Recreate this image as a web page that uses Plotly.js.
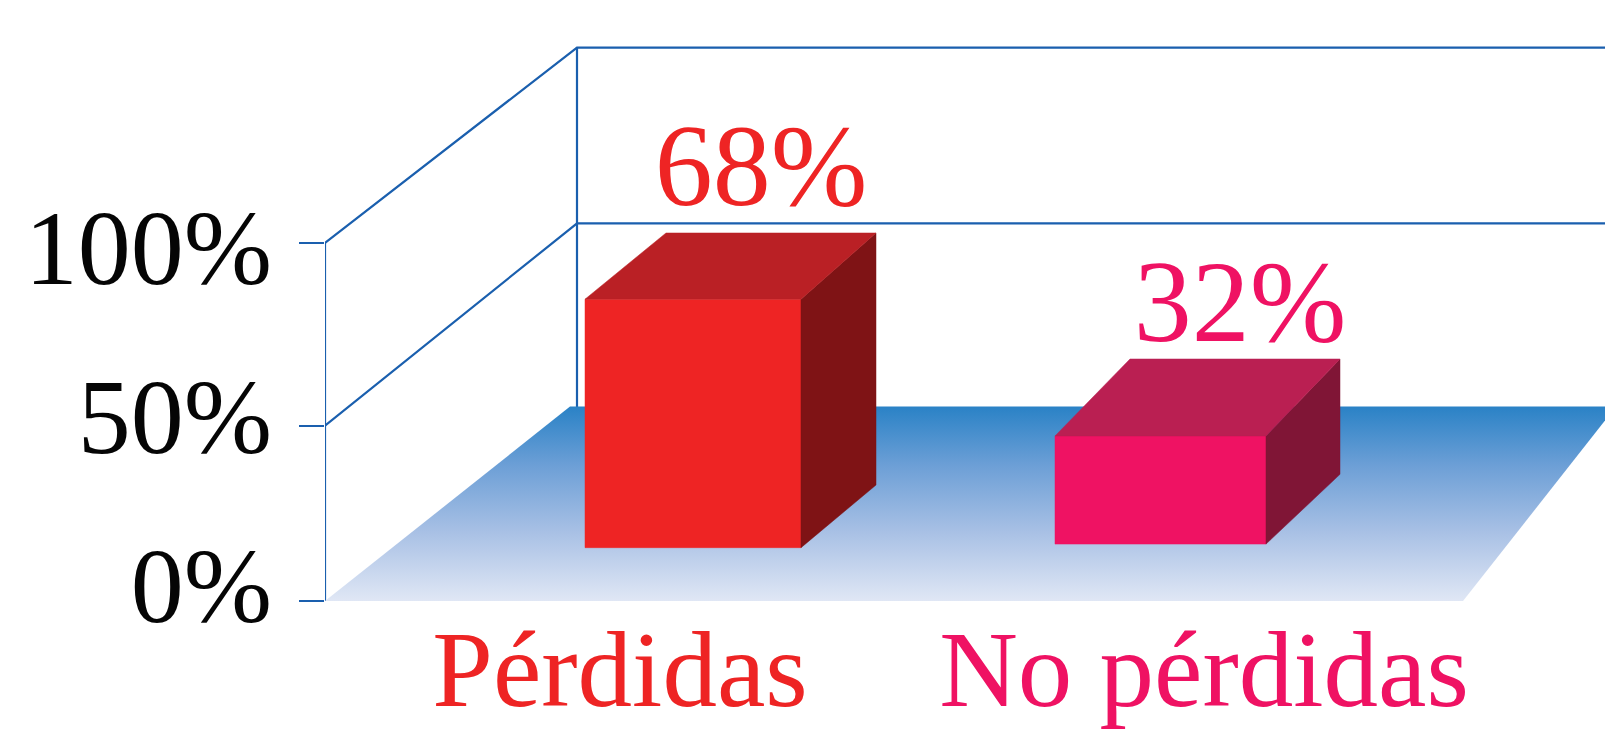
<!DOCTYPE html>
<html><head><meta charset="utf-8">
<script src="https://cdn.plot.ly/plotly-3.0.1.min.js"></script>
<style>html,body{margin:0;padding:0;background:#fff;overflow:hidden}</style>
</head><body><div id="chart" style="width:1605px;height:731px"></div>
<script>
// Data
const categories = ['Pérdidas', 'No pérdidas'];
const percentages = [68, 32];
const seriesColors = ['#EE2424', '#EF1263'];
const sideColors = ['#7F1315', '#801536'];
const topColors = ['#BA2025', '#BA1F52'];
const categoryCentres = [620, 1204];
const barLeft = [585, 1055];
const barRight = [801, 1266];
const barBase = [14.9, 15.9];
const barHeight = [69.4, 30.2];
const labelX = [761, 1240];
const labelY = [118.6, 80.6];
const tickValues = [0, 48.9, 100];
const tickLabelValues = [0, 50, 100];
const tickLabels = ['0%', '50%', '100%'];
const wallValues = [49, 100];
const depthTopLeftX = [81, 75];
const depthTopRightX = [75, 74];
const depthTopY = [18.5, 21.5];
const depthBottomY = [17.5, 19.5];

const UNIT = 3.58, AX = 325, W = 1605;
const lineBlue = '#1A5FAE';
const poly = (xs, ys, color) => ({x: xs, y: ys, mode: 'lines', fill: 'toself', fillcolor: color,
  line: {color: color, width: 0.5}, hoverinfo: 'skip', showlegend: false, cliponaxis: false});
const wallDX = 252, wallDY = [56.5, 54.6], backX = AX + wallDX;
const traces = [];
// wall lines
wallValues.forEach((v, i) => traces.push({x: [AX, backX, W], y: [v, v + wallDY[i], v + wallDY[i]], mode: 'lines',
  line: {color: lineBlue, width: 2.2}, hoverinfo: 'skip', showlegend: false, cliponaxis: false}));
traces.push({x: [backX, backX], y: [54, 154.6], mode: 'lines', line: {color: lineBlue, width: 2.2}, hoverinfo: 'skip', showlegend: false, cliponaxis: false});
traces.push({x: [AX, AX], y: [0, 100], mode: 'lines', line: {color: lineBlue, width: 2.2}, hoverinfo: 'skip', showlegend: false, cliponaxis: false});
// floor
traces.push({x: [AX, 570, 1616, 1463, AX], y: [0, 54.3, 54.3, 0, 0], mode: 'lines', fill: 'toself', line: {width: 0},
  fillgradient: {type: 'vertical', colorscale: [[0, '#E0E7F5'], [0.35, '#A9C1E5'], [0.7, '#6C9FD6'], [1, '#2A82C6']]},
  hoverinfo: 'skip', showlegend: false, cliponaxis: false});
// bars
categories.forEach((c, i) => {
  const l = barLeft[i], r = barRight[i], b = barBase[i], t = b + barHeight[i];
  traces.push(poly([l, r, r, l, l], [b, b, t, t, b], seriesColors[i]));
  traces.push(poly([r, r + depthTopRightX[i], r + depthTopRightX[i], r, r],
    [b, b + depthBottomY[i], t + depthTopY[i], t, b], sideColors[i]));
  traces.push(poly([l, l + depthTopLeftX[i], r + depthTopRightX[i], r, l],
    [t, t + depthTopY[i], t + depthTopY[i], t, t], topColors[i]));
});
// value labels
traces.push({x: labelX, y: labelY, mode: 'text', text: percentages.map(p => p + '%'),
  textposition: 'middle center', textfont: {family: 'Liberation Serif', size: 116, color: seriesColors},
  hoverinfo: 'skip', showlegend: false, cliponaxis: false});
// carrier for the tick label axis
traces.push({x: [AX], y: [0], yaxis: 'y2', mode: 'markers', marker: {opacity: 0, size: 1}, hoverinfo: 'skip', showlegend: false});

const layout = {
  width: 1605, height: 731, paper_bgcolor: '#fff', plot_bgcolor: 'rgba(0,0,0,0)',
  margin: {l: AX, r: 0, t: 0, b: 130}, showlegend: false,
  font: {family: 'Liberation Serif'},
  xaxis: {range: [AX, W], showgrid: false, zeroline: false, showline: false, ticks: '',
    tickmode: 'array', tickvals: categoryCentres,
    ticktext: categories.map((c, i) => `<span style="color:${seriesColors[i]}">${c}</span>`),
    ticklabelstandoff: -5,
    tickfont: {family: 'Liberation Serif', size: 109}, automargin: false},
  yaxis: {range: [0, 601 / UNIT], showgrid: false, zeroline: false, showline: false,
    tickmode: 'array', tickvals: tickValues, ticktext: ['', '', ''], ticks: 'outside', ticklen: 25,
    tickwidth: 2, tickcolor: lineBlue, automargin: false},
  yaxis2: {overlaying: 'y', side: 'left', anchor: 'x', range: [-4.7, 173.1], showgrid: false, zeroline: false, showline: false,
    tickmode: 'array', tickvals: tickLabelValues, ticktext: tickLabels, ticks: '',
    ticklabelstandoff: 52, tickfont: {family: 'Liberation Serif', size: 106, color: '#050505'}, automargin: false}
};
Plotly.newPlot('chart', traces, layout, {displayModeBar: false, staticPlot: true});
</script></body></html>
